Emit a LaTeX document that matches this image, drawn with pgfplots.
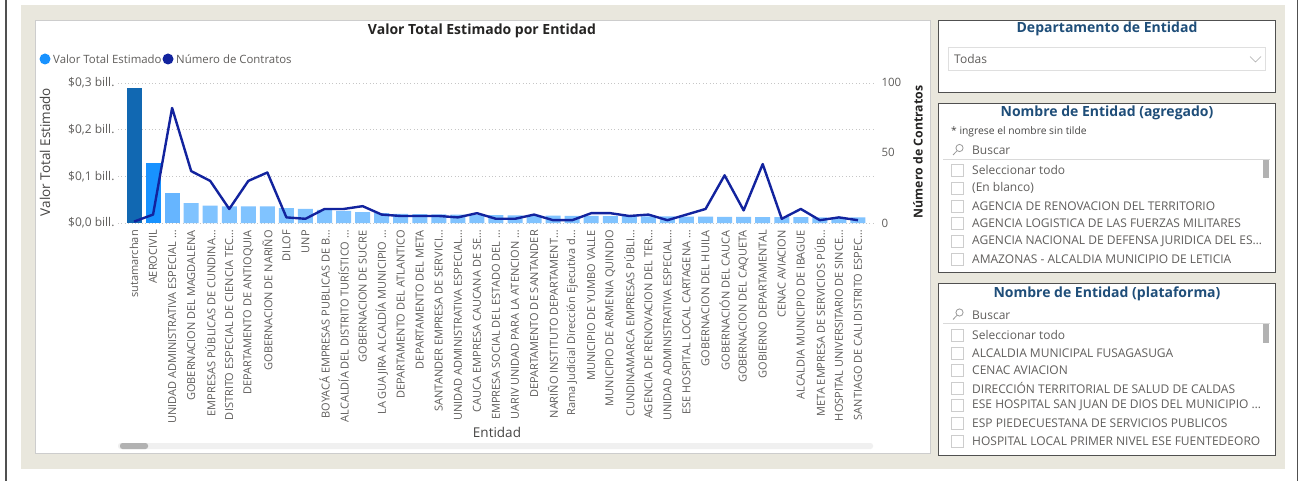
\documentclass[border=0pt]{standalone}
\usepackage{fontspec}
\setmainfont{Open Sans}
\usepackage{pgfplots}
\usepackage{pgfplotstable}
\pgfplotsset{compat=1.18}

\definecolor{pageBeige}{RGB}{233,231,221}
\definecolor{barDark}{RGB}{17,104,178}
\definecolor{barMid}{RGB}{24,146,255}
\definecolor{barThird}{RGB}{102,181,255}
\definecolor{barLight}{RGB}{128,195,255}
\definecolor{lineNavy}{RGB}{18,35,158}
\definecolor{txtGray}{RGB}{96,94,92}
\definecolor{txtDark}{RGB}{37,36,35}
\definecolor{titleBlue}{RGB}{31,78,121}
\definecolor{panelGray}{RGB}{80,80,80}
\definecolor{boxGray}{RGB}{205,205,205}

\newcommand\fs[1]{\fontsize{#1}{#1}\selectfont}

% valor in billions, contratos = count
\pgfplotstableread{
idx valor contratos
0  0.288  1
1  0.129  6
2  0.064  82
3  0.0427 37
4  0.037  30
5  0.0355 10
6  0.0355 30
7  0.0355 36
8  0.032  4
9  0.030  3
10 0.028  10
11 0.026  10
12 0.0235 12
13 0.021  6
14 0.0195 5
15 0.019  5
16 0.0185 5
17 0.018  4
18 0.0175 7
19 0.017  3
20 0.0165 3
21 0.016  6
22 0.0158 2
23 0.0155 2
24 0.015  7
25 0.0148 7
26 0.0145 5
27 0.0142 6
28 0.014  2
29 0.0138 6
30 0.0135 10
31 0.0132 34
32 0.013  9
33 0.0128 42
34 0.0126 3
35 0.0124 10
36 0.0122 2
37 0.012  4
38 0.0118 2
}\datatable

\begin{document}
\begin{tikzpicture}

% dashboard background and panels
\begin{scope}[x=1pt,y=-1pt]
  \fill[white] (0,0) rectangle (1308,481);
  \draw[panelGray,line width=1.2pt] (6,0) -- (6,481);
  \draw[panelGray,line width=1.2pt] (1297.5,0) -- (1297.5,481);
  \fill[pageBeige] (21,5) rectangle (1285,469);
  \filldraw[fill=white,draw=boxGray] (35,20) rectangle (930,453);

  % chart texts
  \node[font=\fs{14}\bfseries,text=txtDark] at (482,31) {Valor Total Estimado por Entidad};
  \fill[barMid] (45,59) circle (5.5);
  \node[anchor=west,font=\fs{11.4},text=txtGray,inner sep=0pt] at (53,59) {Valor Total Estimado};
  \fill[lineNavy] (168,59) circle (5.5);
  \node[anchor=west,font=\fs{11.4},text=txtGray,inner sep=0pt] at (176,59) {Número de Contratos};
  \node[rotate=90,font=\fs{13.5},text=txtDark!85] at (45,152) {Valor Total Estimado};
  \node[rotate=90,font=\fs{12.3}\bfseries,text=txtDark] at (918,152) {Número de Contratos};
  \node[font=\fs{13.5},text=txtDark!85] at (497,432) {Entidad};
  \fill[gray!12,rounded corners=2.5pt] (118,443) rectangle (873,449);
  \fill[gray!60,rounded corners=2.5pt] (120,443) rectangle (148,449);

  % slicer 1
  \filldraw[fill=white,draw=panelGray] (938,20) rectangle (1275,92);
  \node[font=\fs{14}\bfseries,text=titleBlue] at (1107,29) {Departamento de Entidad};
  \draw[gray!25] (948,47) rectangle (1265,70);
  \node[anchor=west,font=\fs{12},text=txtGray,inner sep=0pt] at (954,59.5) {Todas};
  \draw[gray!70] (1250,56.5) -- (1255.5,62) -- (1261,56.5);

  % slicer 2
  \filldraw[fill=white,draw=panelGray] (938,103) rectangle (1275,272);
  \node[font=\fs{14}\bfseries,text=titleBlue] at (1107,112.5) {Nombre de Entidad (agregado)};
  \node[anchor=west,font=\fs{10.3},text=txtDark!85,inner sep=0pt] at (951,131.5) {* ingrese el nombre sin tilde};
  \draw[gray!80,line width=0.8pt] (959.5,148) circle (3.6) (957,150.8) -- (953,155);
  \node[anchor=west,font=\fs{12},text=txtGray,inner sep=0pt] at (972,150.5) {Buscar};
  \draw[gray!30] (943,159.5) -- (1270,159.5);
  \fill[gray!60] (1263,160) rectangle (1269,178);
  \foreach \yy/\lbl in {170/{Seleccionar todo}, 188/{(En blanco)},
      206/{AGENCIA DE RENOVACION DEL TERRITORIO},
      223.5/{AGENCIA LOGISTICA DE LAS FUERZAS MILITARES},
      241.5/{AGENCIA NACIONAL DE DEFENSA JURIDICA DEL ES…},
      259.5/{AMAZONAS - ALCALDIA MUNICIPIO DE LETICIA}} {
    \draw[boxGray] (951,\yy-6) rectangle (963,\yy+6);
    \node[anchor=west,font=\fs{12},text=txtGray,inner sep=0pt] at (972,\yy) {\lbl};
  }

  % slicer 3
  \filldraw[fill=white,draw=panelGray] (938,283) rectangle (1275,455);
  \node[font=\fs{14}\bfseries,text=titleBlue] at (1107,293.5) {Nombre de Entidad (plataforma)};
  \draw[gray!80,line width=0.8pt] (959.5,312.5) circle (3.6) (957,315.3) -- (953,319.5);
  \node[anchor=west,font=\fs{12},text=txtGray,inner sep=0pt] at (972,315) {Buscar};
  \draw[gray!30] (943,323.5) -- (1270,323.5);
  \fill[gray!60] (1263,324) rectangle (1269,343);
  \foreach \yy/\lbl in {335/{Seleccionar todo}, 353/{ALCALDIA MUNICIPAL FUSAGASUGA},
      370.5/{CENAC AVIACION},
      388/{DIRECCIÓN TERRITORIAL DE SALUD DE CALDAS},
      405.5/{ESE HOSPITAL SAN JUAN DE DIOS DEL MUNICIPIO …},
      423.5/{ESP PIEDECUESTANA DE SERVICIOS PUBLICOS},
      441.5/{HOSPITAL LOCAL PRIMER NIVEL ESE FUENTEDEORO}} {
    \draw[boxGray] (951,\yy-6) rectangle (963,\yy+6);
    \node[anchor=west,font=\fs{12},text=txtGray,inner sep=0pt] at (972,\yy) {\lbl};
  }
\end{scope}

% bars: Valor Total Estimado
\begin{axis}[
    at={(118pt,-223pt)}, anchor=south west,
    width=755pt, height=140.3pt, scale only axis,
    xmin=-0.84, xmax=38.79, ymin=0, ymax=0.3,
    axis line style={draw=none}, major tick length=0pt,
    ytick={0,0.1,0.2,0.3},
    yticklabels={{\$0,0 bill.},{\$0,1 bill.},{\$0,2 bill.},{\$0,3 bill.}},
    yticklabel style={font=\fs{12},text=txtGray},
    ymajorgrids, grid style={gray!45,dash pattern=on 0.8pt off 2.6pt},
    xtick={0,1,2,3,4,5,6,7,8,9,10,11,12,13,14,15,16,17,18,19,20,21,22,23,24,25,26,27,28,29,30,31,32,33,34,35,36,37,38},
    xticklabels={
      {sutamarchan},
      {AEROCIVIL},
      {UNIDAD ADMINISTRATIVA ESPECIAL …},
      {GOBERNACION DEL MAGDALENA},
      {EMPRESAS PÚBLICAS DE CUNDINA…},
      {DISTRITO ESPECIAL DE CIENCIA TEC…},
      {DEPARTAMENTO DE ANTIOQUIA},
      {GOBERNACION DE NARIÑO},
      {DILOF},
      {UNP},
      {BOYACÁ EMPRESAS PUBLICAS DE B…},
      {ALCALDÍA DEL DISTRITO TURÍSTICO …},
      {GOBERNACION DE SUCRE},
      {LA GUAJIRA ALCALDÍA MUNICIPIO …},
      {DEPARTAMENTO DEL ATLANTICO},
      {DEPARTAMENTO DEL META},
      {SANTANDER EMPRESA DE SERVICI…},
      {UNIDAD ADMINISTRATIVA ESPECIAL…},
      {CAUCA EMPRESA CAUCANA DE SE…},
      {EMPRESA SOCIAL DEL ESTADO DEL …},
      {UARIV UNIDAD PARA LA ATENCION …},
      {DEPARTAMENTO DE SANTANDER},
      {NARIÑO INSTITUTO DEPARTAMENT…},
      {Rama Judicial Dirección Ejecutiva d…},
      {MUNICIPIO DE YUMBO VALLE},
      {MUNICIPIO DE ARMENIA QUINDIO},
      {CUNDINAMARCA EMPRESAS PÚBLI…},
      {AGENCIA DE RENOVACION DEL TER…},
      {UNIDAD ADMINISTRATIVA ESPECIAL…},
      {ESE HOSPITAL LOCAL CARTAGENA …},
      {GOBERNACION DEL HUILA},
      {GOBERNACIÓN DEL CAUCA},
      {GOBERNACION DEL CAQUETA},
      {GOBIERNO DEPARTAMENTAL},
      {CENAC AVIACION},
      {ALCALDIA MUNICIPIO DE IBAGUE},
      {META EMPRESA DE SERVICIOS PÚB…},
      {HOSPITAL UNIVERSITARIO DE SINCE…},
      {SANTIAGO DE CALI DISTRITO ESPEC…}},
    xticklabel style={rotate=90, anchor=east, font=\fs{11}, text=txtGray, inner sep=0pt, xshift=-7pt},
    ybar, bar width=15pt,
]
\addplot[fill=barDark, draw=none, bar shift=0pt, restrict x to domain=0:0]
  table[x=idx, y=valor] {\datatable};
\addplot[fill=barMid, draw=none, bar shift=0pt, restrict x to domain=1:1]
  table[x=idx, y=valor] {\datatable};
\addplot[fill=barThird, draw=none, bar shift=0pt, restrict x to domain=2:2]
  table[x=idx, y=valor] {\datatable};
\addplot[fill=barLight, draw=none, bar shift=0pt, restrict x to domain=3:38]
  table[x=idx, y=valor] {\datatable};
\end{axis}

% line: Número de Contratos
\begin{axis}[
    at={(118pt,-223pt)}, anchor=south west,
    width=755pt, height=140.3pt, scale only axis,
    xmin=-0.84, xmax=38.79, ymin=0, ymax=100,
    axis x line=none, axis y line*=right,
    axis line style={draw=none}, major tick length=0pt,
    ytick={0,50,100}, yticklabels={0,50,100},
    yticklabel style={font=\fs{11.5},text=txtGray, xshift=5pt},
]
\addplot[lineNavy, line width=2.4pt, line join=round, mark=none]
  table[x=idx, y=contratos] {\datatable};
\end{axis}

\begin{scope}[x=1pt,y=-1pt]
  \pgfresetboundingbox
  \path[use as bounding box] (0,0) rectangle (1308,481);
\end{scope}
\end{tikzpicture}
\end{document}
